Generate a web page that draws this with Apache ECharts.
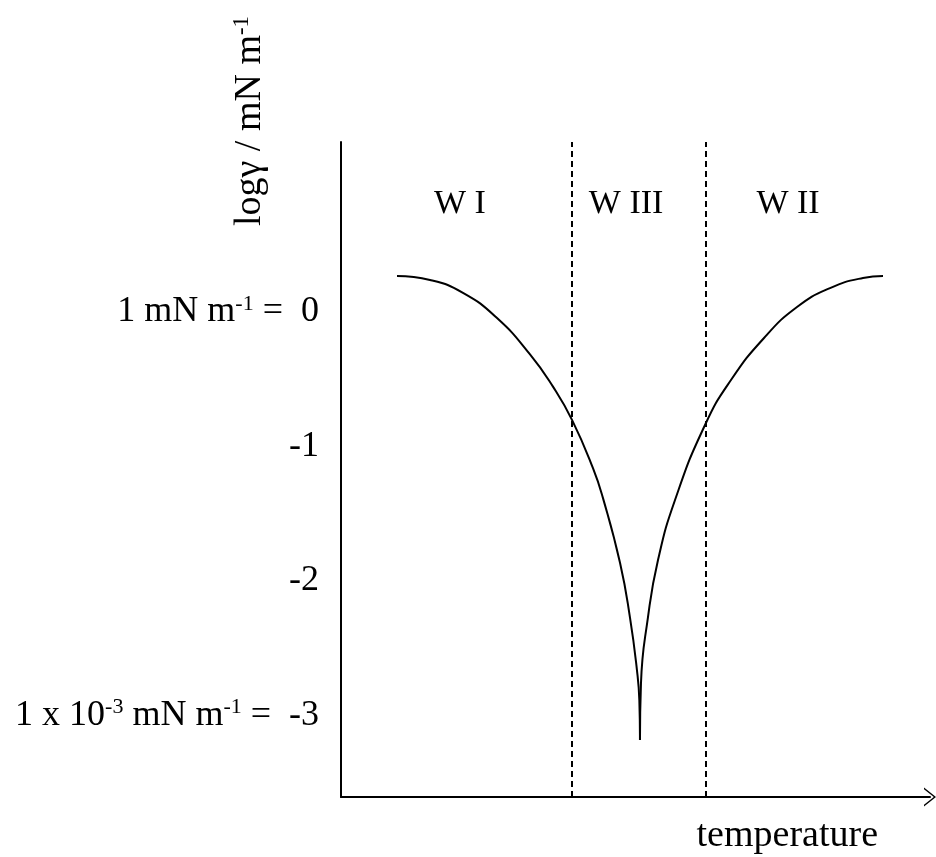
<!DOCTYPE html>
<html>
<head>
    <meta charset="utf-8">
    <title>log interfacial tension vs temperature</title>
    <script src="https://cdn.jsdelivr.net/npm/echarts@6/dist/echarts.min.js"></script>
    <style>
        html, body { margin: 0; padding: 0; background: #fff; }
    </style>
</head>
<body>
    <div id="main" style="width: 936px;height:857px;"></div>
    <script type="text/javascript">
        // curve (x in arbitrary temperature units 0-100)
        var curveX = [9.51, 15.11, 20.71, 26.49, 32.09, 35.99, 39.22, 42.78, 44.48, 47.37, 49.07, 50.25, 50.65, 50.76,
                      50.93, 52.12, 53.82, 56.71, 61.80, 66.21, 71.82, 77.42, 83.02, 88.62, 92.02];
        var curveY = [0.268, 0.238, 0.142, -0.045, -0.315, -0.555, -0.802, -1.161, -1.384, -1.865, -2.274, -2.664, -2.885, -3.182,
                      -2.76, -2.268, -1.844, -1.398, -0.840, -0.506, -0.193, 0.037, 0.178, 0.253, 0.268];

        // phase boundaries (dashed) and region names
        var boundaryX = [39.22, 61.97];
        var regionNames = ['W I', 'W III', 'W II'];
        var regionX = [20.2, 48.4, 75.9];
        var regionY = 0.80;

        // y tick values and their labels
        var yTickValues = [0, -1, -2, -3];
        var yTickLabels = {
            '0': '1 mN m{sup|-1} =  0',
            '-1': '-1',
            '-2': '-2',
            '-3': '1 x 10{sup|-3} mN m{sup|-1} =  -3'
        };

        var FONT = 'Liberation Serif';
        var FS = 36;

        // split at the cusp so each branch is smoothed on its own
        var minIdx = curveY.indexOf(Math.min.apply(null, curveY));
        var curveData = curveX.map(function (x, i) { return [x, curveY[i]]; });
        var leftBranch = curveData.slice(0, minIdx + 1);
        var rightBranch = curveData.slice(minIdx);
        var regionData = regionX.map(function (x, i) { return { value: [x, regionY], name: regionNames[i] }; });

        function branch(data) {
            return {
                type: 'line',
                data: data,
                smooth: 0.5,
                symbol: 'none',
                silent: true,
                lineStyle: { color: '#000', width: 2 }
            };
        }

        var myChart = echarts.init(document.getElementById('main'));
        var left = branch(leftBranch);
        left.markLine = {
            silent: true,
            symbol: 'none',
            label: { show: false },
            lineStyle: { color: '#000', width: 2, type: [6, 4] },
            data: boundaryX.map(function (x) { return { xAxis: x }; })
        };

        myChart.setOption({
            animation: false,
            backgroundColor: '#fff',
            grid: { left: 341, right: 6, top: 142, bottom: 60 },
            xAxis: {
                type: 'value',
                min: 0,
                max: 100,
                name: 'temperature',
                nameLocation: 'end',
                nameGap: -52,
                nameTextStyle: {
                    fontFamily: FONT, fontSize: 38, color: '#000',
                    align: 'right', verticalAlign: 'top', padding: [20, 0, 0, 0]
                },
                axisLine: {
                    onZero: false,
                    lineStyle: { color: '#000', width: 2 },
                    symbol: ['none', 'path://M0,12 L9.5,0 L19,12 L17.3,12 L9.5,2.2 L1.7,12 Z'],
                    symbolSize: [19, 12]
                },
                axisTick: { show: false },
                axisLabel: { show: false },
                splitLine: { show: false }
            },
            yAxis: {
                type: 'value',
                min: -3.606,
                max: 1.264,
                axisLine: { show: true, onZero: false, lineStyle: { color: '#000', width: 2 } },
                axisTick: { show: false },
                splitLine: { show: false },
                axisLabel: {
                    customValues: yTickValues,
                    margin: 22,
                    color: '#000',
                    fontFamily: FONT,
                    fontSize: FS,
                    formatter: function (v) {
                        var k = String(Math.round(v));
                        return '{m|' + (yTickLabels[k] || k).replace(/\{sup\|([^}]*)\}/g, '}{sup|$1}{m|') + '}';
                    },
                    rich: {
                        m: { fontFamily: FONT, fontSize: FS, color: '#000', lineHeight: 42 },
                        sup: { fontFamily: FONT, fontSize: 22, color: '#000', lineHeight: 42, verticalAlign: 'top', padding: [2, 0, 0, 0] }
                    }
                }
            },
            graphic: [{
                type: 'text',
                x: 250,
                y: 226,
                rotation: Math.PI / 2,
                style: {
                    text: '{m|log\u03b3 / mN m}{sup|-1}',
                    textAlign: 'left',
                    textVerticalAlign: 'middle',
                    rich: {
                        m: { fontFamily: FONT, fontSize: 38, fill: '#000', lineHeight: 44 },
                        sup: { fontFamily: FONT, fontSize: 23, fill: '#000', lineHeight: 44, verticalAlign: 'top', padding: [2, 0, 0, 0] }
                    }
                }
            }],
            series: [left, branch(rightBranch), {
                type: 'scatter',
                data: regionData,
                symbolSize: 0,
                silent: true,
                itemStyle: { opacity: 1 },
                label: {
                    show: true,
                    position: 'inside',
                    formatter: '{b}',
                    fontFamily: FONT,
                    fontSize: 34,
                    color: '#000',
                    opacity: 1
                }
            }]
        });
    </script>
</body>
</html>
